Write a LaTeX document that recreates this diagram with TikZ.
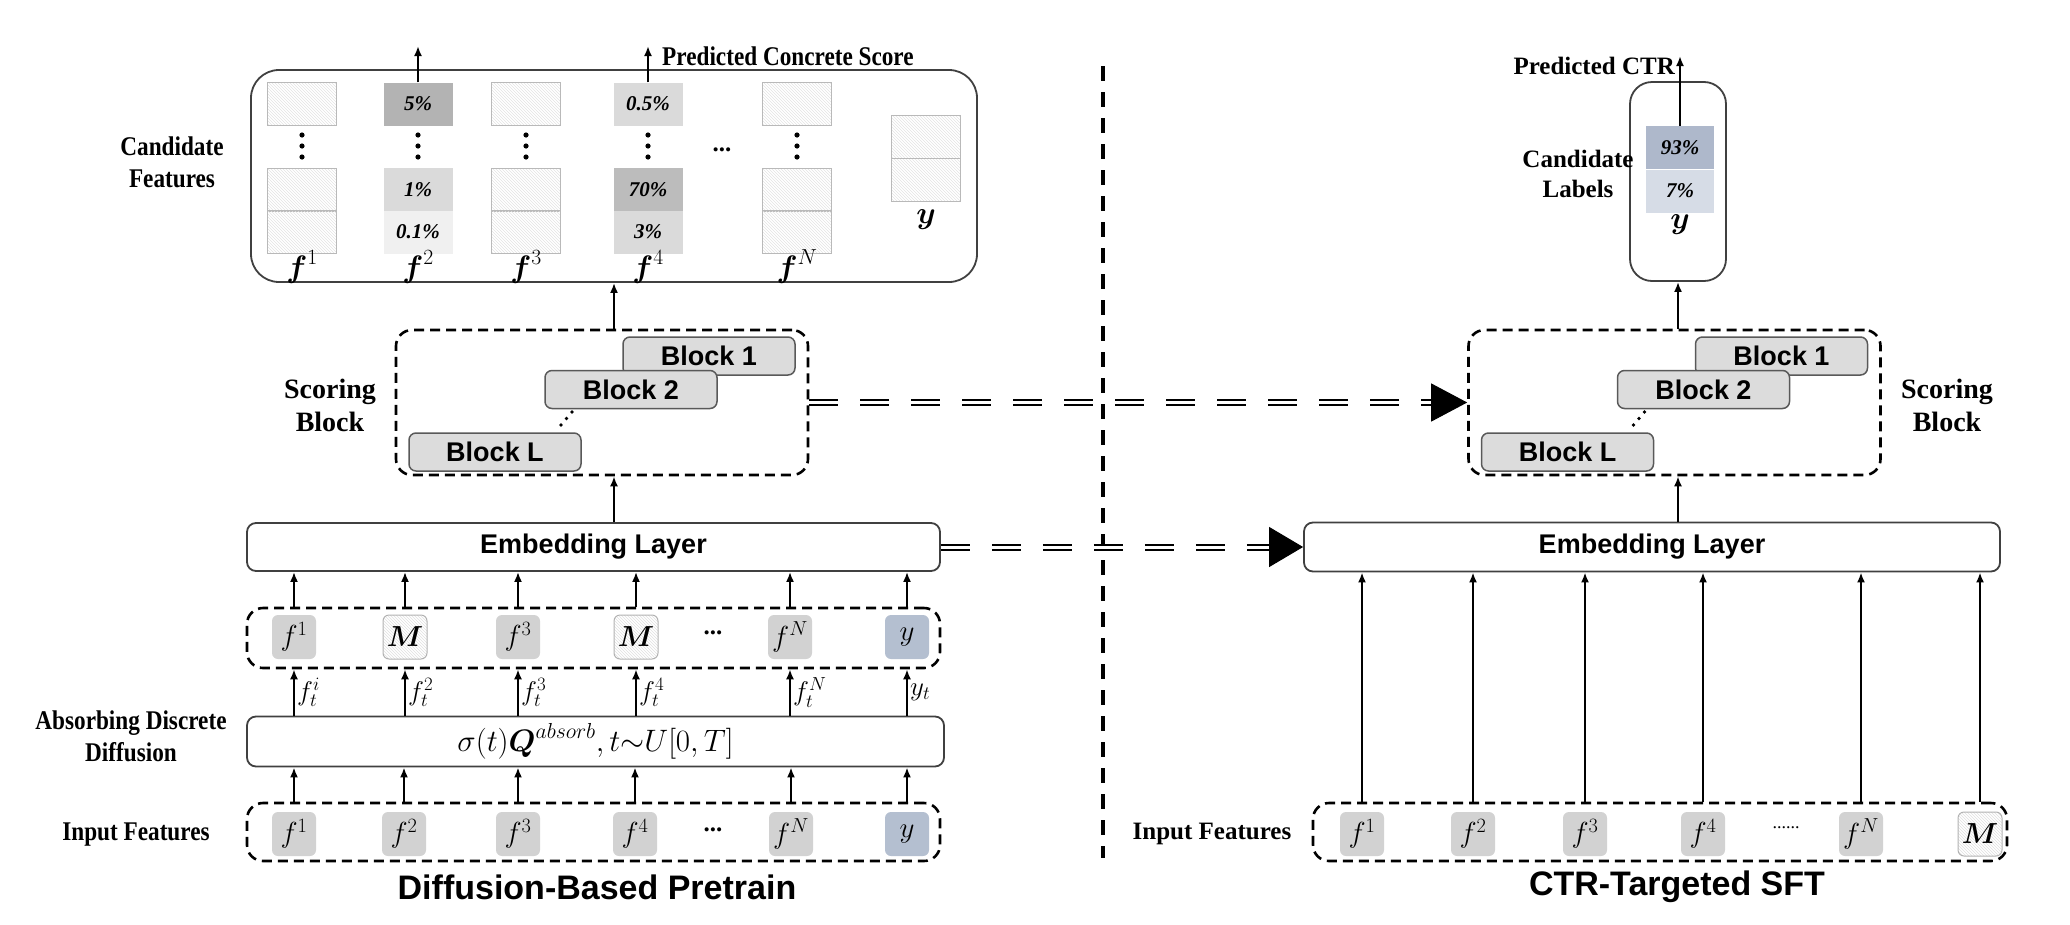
\documentclass[tikz,border=0pt]{standalone}
\usepackage{fix-cm}
\usepackage{amsmath}
\usepackage{fontspec}
\setmainfont{Liberation Serif}
\setsansfont{Liberation Sans}
\usepackage{graphicx}
\usetikzlibrary{arrows.meta,patterns,positioning}

\definecolor{tokgray}{HTML}{D2D2D2}
\definecolor{tokblue}{HTML}{B4BFD0}
\definecolor{blockgray}{HTML}{DCDCDC}
\definecolor{celldark}{HTML}{B3B3B3}
\definecolor{cellmid}{HTML}{BCBCBC}
\definecolor{celllight}{HTML}{DADADA}
\definecolor{cellpale}{HTML}{F0F0F0}
\definecolor{labdark}{HTML}{AEB8CB}
\definecolor{lablight}{HTML}{D6DCE6}

% narrow serif labels of the left half
\newcommand{\squeeze}[1]{\scalebox{0.86}[1]{\begin{tabular}{@{}c@{}}#1\end{tabular}}}

\begin{document}
\begin{tikzpicture}[x=1pt,y=-1pt,
    lbl/.style={font=\rmfamily\bfseries\fontsize{25}{30}\selectfont, align=center, inner sep=0pt},
    sqlbl/.style={font=\rmfamily\bfseries\fontsize{27}{32}\selectfont, inner sep=0pt},
    title/.style={font=\sffamily\bfseries\fontsize{34}{38}\selectfont, inner sep=0pt},
    layer/.style={draw=black!75, line width=1.8pt, rounded corners=9pt, inner sep=0pt,
        font=\sffamily\bfseries\fontsize{27}{30}\selectfont},
    dbox/.style={draw, line width=2.6pt, dash pattern=on 10pt off 6pt, rounded corners=16pt, inner sep=0pt},
    blk/.style={draw=black!65, fill=blockgray, line width=1.5pt, rounded corners=7pt,
        minimum width=172pt, minimum height=38pt, inner sep=0pt,
        font=\sffamily\bfseries\fontsize{27}{29}\selectfont},
    tokbase/.style={rounded corners=6pt, minimum width=44pt, minimum height=44pt, inner sep=0pt,
        font=\fontsize{29}{31}\selectfont},
    tok/.style={tokbase, fill=tokgray},
    ytok/.style={tokbase, fill=tokblue},
    mtok/.style={tokbase, draw=gray!60, line width=1pt, pattern=north west lines, pattern color=gray!25},
    cellbase/.style={minimum width=69pt, minimum height=43pt, inner sep=0pt,
        font=\rmfamily\bfseries\itshape\fontsize{21}{23}\selectfont},
    hatch/.style={draw=gray!55, line width=0.8pt, pattern=north west lines, pattern color=gray!22},
    fdark/.style={fill=celldark},
    fmid/.style={fill=cellmid},
    flight/.style={fill=celllight},
    fpale/.style={fill=cellpale},
    flbl/.style={font=\fontsize{31}{33}\selectfont, inner sep=0pt},
    ftl/.style={font=\fontsize{27}{29}\selectfont, inner sep=2pt, anchor=west},
    arr/.style={-{Latex[length=10pt,width=8pt]}, line width=2.2pt},
    dbl/.style={double, double distance=3pt, line width=2pt, dash pattern=on 29pt off 22pt},
    scoring/.pic={
        \node[dbox, minimum width=412pt, minimum height=145pt] (-box) at (0,0) {};
        \node[blk] (-b1) at (107,-46.5) {Block 1};
        \node[blk] (-b2) at (29,-13) {Block 2};
        \node[blk] (-bl) at (-107,49.5) {Block L};
        \fill (-41,22.5) circle (1.8) (-35.5,16) circle (1.8) (-30,9.5) circle (1.8);
    }
]
\useasboundingbox (0,0) rectangle (2070,924);

%% left half: diffusion-based pretrain
\node[layer, minimum width=726pt, minimum height=212pt, rounded corners=28pt] (candL) at (614,176) {};
\foreach \k/\px/\sa/\sb/\sc/\ta/\tb/\tc in {
    1/302/hatch/hatch/hatch/{}/{}/{},
    2/418/fdark/flight/fpale/5\%/1\%/0.1\%,
    3/526/hatch/hatch/hatch/{}/{}/{},
    4/648/flight/fmid/flight/0.5\%/70\%/3\%,
    N/797/hatch/hatch/hatch/{}/{}/{}}{
    \node[cellbase,\sa] (ca\k) at (\px,104) {\ta};
    \node[cellbase,\sb] (cb\k) at (\px,189.5) {\tb};
    \node[cellbase,\sc] (cc\k) at (\px,232) {\tc};
    \fill (\px,135) circle (2.6) (\px,146) circle (2.6) (\px,157) circle (2.6);
    \node[flbl] (cl\k) at (\px,267) {$\boldsymbol{f}^{\k}$};
}
\node[cellbase,hatch] (cy1) at (926,136.5) {};
\node[cellbase,hatch] (cy2) at (926,180) {};
\node[flbl] (cly) at (926,220) {$\boldsymbol{y}$};
\node[lbl] (cdots) at (722,150) {...};

\coordinate (out2) at (418,46);
\coordinate (out4) at (648,46);
\draw[arr] (ca2.north) -- (out2);
\draw[arr] (ca4.north) -- (out4);
\node[sqlbl, anchor=west] (pcs) at (662,59) {\squeeze{Predicted Concrete Score}};
\node[sqlbl] (cfl) at (172,165) {\squeeze{Candidate\\Features}};

\pic (sbL) at (602,402.5) {scoring};
\node[lbl, font=\rmfamily\bfseries\fontsize{28}{33}\selectfont] (sbll) at (330,405) {Scoring\\Block};

\node[layer, minimum width=693pt, minimum height=48pt] (embL) at (593.5,547) {Embedding Layer};
\draw[arr] (embL.north -| candL.south) -- (sbL-box.south -| candL.south);
\draw[arr] (sbL-box.north -| candL.south) -- (candL.south);

% masked tokens
\node[dbox, minimum width=693pt, minimum height=60pt] (mrow) at (593.5,638) {};
\foreach \k/\px/\kind/\txt in {
    1/294/tok/{$f^{1}$},
    2/405/mtok/{$\boldsymbol{M}$},
    3/518/tok/{$f^{3}$},
    4/636/mtok/{$\boldsymbol{M}$},
    5/790/tok/{$f^{N}$},
    6/907/ytok/{$y$}}{
    \node[\kind] (m\k) at (\px,637) {\txt};
    \draw[arr] (mrow.north -| m\k) -- (embL.south -| m\k);
}
\node[lbl] (mdots) at (713,633) {...};

\node[layer, minimum width=697pt, minimum height=50pt,
      font=\fontsize{31}{33}\selectfont] (diff) at (595.5,741.5)
      {$\sigma(t)\boldsymbol{Q}^{absorb},t{\sim}U[0,T]$};
\foreach \k/\sub in {1/{$f_t^{i}$},2/{$f_t^{2}$},3/{$f_t^{3}$},4/{$f_t^{4}$},5/{$f_t^{N}$},6/{$y_t$}}{
    \draw[arr] (diff.north -| m\k) -- (mrow.south -| m\k) node[ftl, midway] {\sub};
}
\node[sqlbl] (adl) at (131,739) {\squeeze{Absorbing Discrete\\Diffusion}};

% input features
\node[dbox, minimum width=693pt, minimum height=58pt] (inL) at (593.5,832) {};
\foreach \k/\px/\kind/\txt in {
    1/294/tok/{$f^{1}$}, 2/404/tok/{$f^{2}$}, 3/518/tok/{$f^{3}$},
    4/635/tok/{$f^{4}$}, 5/791/tok/{$f^{N}$}, 6/907/ytok/{$y$}}{
    \node[\kind] (i\k) at (\px,834) {\txt};
    \draw[arr] (inL.north -| i\k) -- (diff.south -| i\k);
}
\node[lbl] (idots) at (713,830) {...};
\node[sqlbl] (ifl) at (136,834) {\squeeze{Input Features}};
\node[title] (ttlL) at (597,887) {Diffusion-Based Pretrain};

%% divider
\coordinate (divtop) at (1103,66);
\coordinate (divbot) at (1103,858);
\draw[line width=4pt, dash pattern=on 15pt off 11pt] (divtop) -- (divbot);

%% right half: CTR-targeted SFT
\node[layer, minimum width=96pt, minimum height=199pt, rounded corners=22pt] (candR) at (1678,181.5) {};
\node[cellbase, fill=labdark, minimum width=68pt] (p93) at (1680,147.5) {93\%};
\node[cellbase, fill=lablight, minimum width=68pt] (p7) at (1680,191) {7\%};
\node[flbl] (rly) at (1680,225) {$\boldsymbol{y}$};
\coordinate (outR) at (1680,56);
\draw[arr] (p93.north) -- (outR);
\node[lbl, anchor=east] (pctr) at (1675,66) {Predicted CTR};
\node[lbl] (cll) at (1578,174) {Candidate\\Labels};

\pic (sbR) at (1674.5,402.5) {scoring};
\node[lbl, font=\rmfamily\bfseries\fontsize{28}{33}\selectfont] (sbrl) at (1947,405) {Scoring\\Block};

\node[layer, minimum width=696pt, minimum height=49pt] (embR) at (1652,547) {Embedding Layer};
\draw[arr] (embR.north -| candR.south) -- (sbR-box.south -| candR.south);
\draw[arr] (sbR-box.north -| candR.south) -- (candR.south);

\node[dbox, minimum width=694pt, minimum height=58pt] (inR) at (1660,832) {};
\foreach \k/\px/\kind/\txt in {
    1/1362/tok/{$f^{1}$}, 2/1473/tok/{$f^{2}$}, 3/1585/tok/{$f^{3}$},
    4/1703/tok/{$f^{4}$}, 5/1861/tok/{$f^{N}$}, 6/1980/mtok/{$\boldsymbol{M}$}}{
    \node[\kind] (r\k) at (\px,834) {\txt};
    \draw[arr] (inR.north -| r\k) -- (embR.south -| r\k);
}
\node[font=\rmfamily\fontsize{18}{20}\selectfont] (rdots) at (1786,828) {......};
\node[lbl] (irl) at (1212,834) {Input Features};
\node[title] (ttlR) at (1677,887) {CTR-Targeted SFT};

%% transfer arrows
\coordinate (tipS) at ([xshift=-36pt]sbR-box.west);
\draw[dbl] (sbL-box.east) -- (tipS);
\draw[-{Triangle[length=36pt,width=38pt]}, line width=1pt] (tipS) -- (sbR-box.west);
\coordinate (tipE) at ([xshift=-34pt]embR.west);
\draw[dbl] (embL.east) -- (tipE);
\draw[-{Triangle[length=34pt,width=40pt]}, line width=1pt] (tipE) -- (embR.west);
\end{tikzpicture}
\end{document}
